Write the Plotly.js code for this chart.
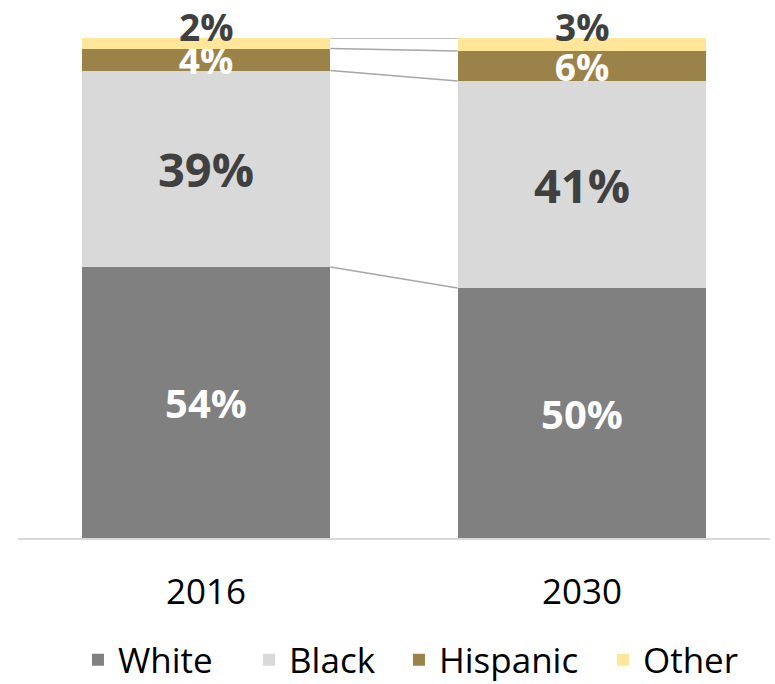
<!DOCTYPE html>
<html>
<head>
<meta charset="utf-8">
<script src="https://cdn.plot.ly/plotly-3.0.1.min.js"></script>
<style>html,body{margin:0;padding:0;background:#fff;}#chart{width:775px;height:684px;}</style>
</head>
<body>
<div id="chart"></div>
<script>
// Data (shares in %)
const years = ['2016', '2030'];
const seriesNames = ['White', 'Black', 'Hispanic', 'Other'];
const white = [54.2, 50.0];
const black = [39.3, 41.4];
const hispanic = [4.4, 6.0];
const other = [2.1, 2.6];

const colors = ['#808080', '#d9d9d9', '#9b8248', '#ffe699'];
const labelFonts = [
  {family: 'Open Sans', size: 40, color: '#ffffff', weight: 'bold'},
  {family: 'Open Sans', size: 47, color: '#404040', weight: 'bold'},
  {family: 'Open Sans', size: 37, color: '#ffffff', weight: 'bold'},
  {family: 'Open Sans', size: 37, color: '#404040', weight: 'bold'}
];
const series = [white, black, hispanic, other];
const bargap = 0.338;
const legendIds = ['legend', 'legend2', 'legend3', 'legend4'];
const legendX = [0.1006, 0.3213, 0.5148, 0.778];

const traces = series.map((vals, i) => ({
  type: 'bar',
  name: seriesNames[i],
  legend: legendIds[i],
  x: years,
  y: vals,
  marker: {color: colors[i], line: {width: 0}},
  text: vals.map(v => Math.round(v) + '%'),
  textposition: i === 3 ? 'none' : 'inside',
  insidetextanchor: 'middle',
  textangle: 0,
  constraintext: 'none',
  cliponaxis: false,
  textfont: labelFonts[i],
  insidetextfont: labelFonts[i],
  hoverinfo: 'skip'
}));

// Series connector lines between bar edges at cumulative segment tops
const half = (1 - bargap) / 2;
let cum = [0, 0];
series.forEach((vals, i) => {
  cum = cum.map((c, k) => Math.round((c + vals[k]) * 1e6) / 1e6);
  traces.push({
    type: 'scatter',
    mode: 'lines',
    x: [half, 1 - half],
    y: cum.slice(),
    xaxis: 'x2',
    line: {color: '#a6a6a6', width: 1.3},
    showlegend: false,
    hoverinfo: 'skip'
  });
});

// Labels for the top (Other) segment, sitting just above the stack
const annotations = years.map((yr, k) => ({
  x: k,
  y: cum[k],
  xref: 'x2',
  yref: 'y',
  text: Math.round(other[k]) + '%',
  showarrow: false,
  xanchor: 'center',
  yanchor: 'middle',
  yshift: 12,
  font: Object.assign({}, labelFonts[3])
}));

const layout = {
  width: 775,
  height: 684,
  margin: {l: 18, r: 5, t: 38, b: 146},
  paper_bgcolor: '#ffffff',
  plot_bgcolor: '#ffffff',
  barmode: 'stack',
  bargap: bargap,
  font: {family: 'Open Sans', color: '#000000'},
  annotations: annotations,
  xaxis: {
    type: 'category',
    range: [-0.5, 1.5],
    showline: true,
    linecolor: '#d9d9d9',
    linewidth: 1.5,
    ticks: '',
    showgrid: false,
    zeroline: false,
    tickfont: {family: 'Open Sans', size: 35, color: '#000000'},
    ticklabelstandoff: 22,
    fixedrange: true
  },
  xaxis2: {
    overlaying: 'x',
    type: 'linear',
    range: [-0.5, 1.5],
    visible: false,
    fixedrange: true
  },
  yaxis: {
    range: [0, 100],
    visible: false,
    showgrid: false,
    zeroline: false,
    fixedrange: true
  },
  showlegend: true
};

legendIds.forEach((id, i) => {
  layout[id] = {
    orientation: 'h',
    xref: 'container',
    yref: 'container',
    x: legendX[i],
    xanchor: 'left',
    y: 1 - 660 / 684,
    yanchor: 'middle',
    bgcolor: 'rgba(0,0,0,0)',
    font: {family: 'Open Sans', size: 35, color: '#000000'}
  };
});

Plotly.newPlot('chart', traces, layout, {displayModeBar: false, staticPlot: true});
</script>
</body>
</html>
